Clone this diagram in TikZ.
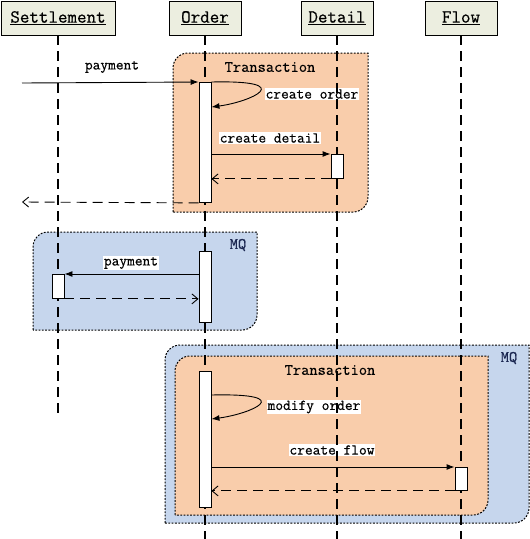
\documentclass[tikz,border=0pt]{standalone}
\usepackage{fontspec}
\setmonofont{Latin Modern Mono}[FakeBold=0.6]
\usetikzlibrary{arrows.meta}
\definecolor{headfill}{RGB}{236,238,224}
\definecolor{peach}{RGB}{249,205,171}
\definecolor{mqblue}{RGB}{198,214,237}
\definecolor{mqtext}{RGB}{28,40,82}

\begin{document}
\begin{tikzpicture}[
  x=1pt,y=1pt,
  actor/.style  ={draw=black,fill=headfill,line width=0.9pt,minimum height=34pt,inner sep=0pt,font=\ttfamily\fontsize{18.5}{20}\selectfont},
  life/.style   ={draw=black,line width=1.1pt,dash pattern=on 10pt off 6pt},
  bar/.style    ={draw=black,fill=white,line width=0.9pt,minimum width=12pt,inner sep=0pt,anchor=north},
  call/.style   ={draw=black,line width=0.9pt,-{Latex[length=8pt,width=6pt]}},
  reply/.style  ={draw=black,line width=0.9pt,dash pattern=on 10pt off 6pt,-{Straight Barb[length=6pt,width=10pt]}},
  msglab/.style ={fill=white,inner sep=1pt,font=\ttfamily\fontsize{15}{16}\selectfont},
  frame/.style  ={draw=black,line width=1pt,dash pattern=on 1.8pt off 1.5pt},
  framelab/.style={inner sep=0pt,font=\ttfamily\fontsize{16}{17}\selectfont}]
\useasboundingbox (0,0) rectangle (530,-539);
% --- Frames: transactions and message queue, rounded top-left / bottom-right ---
\foreach \xa/\ya/\xb/\yb/\col in
  {173/53/368/212/peach, 33/232/257/330/mqblue,
   165/345/529/523/mqblue, 175/356/488/515/peach}
{
  \path[frame,fill=\col] (\xa,-\yb) -- (\xa,-\ya-15)
    arc[start angle=180,end angle=90,radius=15] -- (\xb,-\ya)
    -- (\xb,-\yb+15) arc[start angle=0,end angle=-90,radius=15] -- cycle;
}
\node[framelab] (tx1) at (270,-67) {Transaction};
\node[framelab] (tx2) at (330,-370) {Transaction};
\node[framelab,text=mqtext,font=\ttfamily\bfseries\fontsize{16}{17}\selectfont] (mq1) at (238,-245) {MQ};
\node[framelab,text=mqtext,font=\ttfamily\bfseries\fontsize{16}{17}\selectfont] (mq2) at (509,-358) {MQ};
% --- Message labels ---
\node[msglab] (lpay)    at (112,-67)  {payment};
\node[msglab] (lorder)  at (312,-94)  {create order};
\node[msglab] (ldetail) at (270,-138) {create detail};
\node[msglab] (lpay2)   at (131,-263) {payment};
\node[msglab] (lmodify) at (314,-407) {modify order};
\node[msglab] (lflow)   at (332,-450) {create flow};
% --- Participants and lifelines ---
\foreach \who/\x/\w/\txt/\stop in
  {settle/58/114/Settlement/418, order/205/72/Order/539,
   detail/337/72/Detail/539, flow/461/72/Flow/539}
{
  \node[actor,minimum width=\w pt] (\who) at (\x,-18) {\underline{\txt}};
  \draw[life] (\who.south) -- (\who.south |- 0,-\stop);
}
% --- Activation bars ---
\node[bar,minimum height=120pt] (ob1) at (205,-82)  {};
\node[bar,minimum height=24pt]  (db1) at (337,-154) {};
\node[bar,minimum height=71pt]  (ob2) at (205,-251) {};
\node[bar,minimum height=24pt]  (sb1) at (58,-274)  {};
\node[bar,minimum height=136pt] (ob3) at (205,-371) {};
\node[bar,minimum height=23pt]  (fb1) at (461,-467) {};
% --- Messages ---
\coordinate (payIn)  at (22,-83);
\coordinate (payOut) at (22,-202);
\coordinate (selfA)  at ([yshift=-25pt]ob1.north east);
\coordinate (selfB)  at ([yshift=-24pt]ob3.north east);
\coordinate (selfC)  at ([yshift=-48pt]ob3.north east);
\draw[call] (payIn) -- (ob1.north west);
\draw[call] (ob1.north east) .. controls (300,-80) and (250,-102) .. (selfA);
\draw[call] (ob1.east |- db1.north) -- (db1.north west);
\draw[reply] (db1.south west) -- (ob1.east |- db1.south);
\draw[reply] (ob1.south west) -- (payOut);
\draw[call] (ob2.west |- sb1.north) -- (sb1.north east);
\draw[reply] (sb1.south east) -- (ob2.west |- sb1.south);
\draw[call] (selfB) .. controls (300,-393) and (250,-414) .. (selfC);
\draw[call] (ob3.east |- fb1.north) -- (fb1.north west);
\draw[reply] (fb1.south west) -- (ob3.east |- fb1.south);
\end{tikzpicture}
\end{document}
